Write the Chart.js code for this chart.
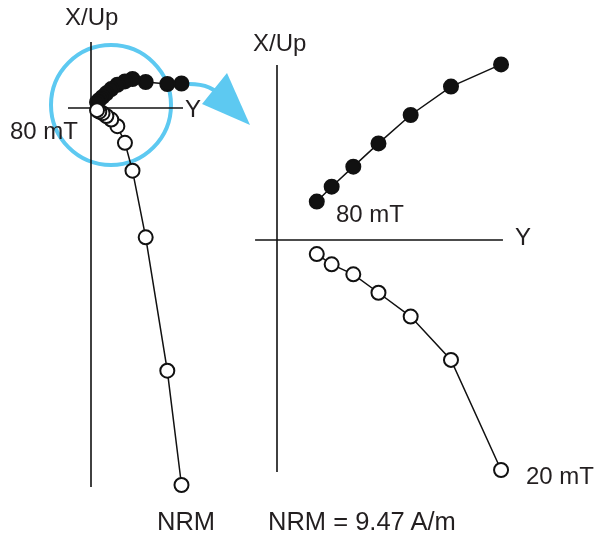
<!DOCTYPE html>
<html>
<head>
<meta charset="utf-8">
<script src="https://cdn.jsdelivr.net/npm/chart.js@4"></script>
<style>
  body { margin: 0; background: #fff; }
  #wrap { position: relative; width: 605px; height: 536px; }
  #zij { position: absolute; left: 0; top: 0; }
  .lbl { position: absolute; font-family: "Liberation Sans", Arial, sans-serif;
         font-size: 24px; line-height: 24px; color: #231f20; white-space: nowrap; }
  .big { font-size: 25.5px; line-height: 25px; }
</style>
</head>
<body>
<div id="wrap">
  <canvas id="zij" width="605" height="536"></canvas>
  <div class="lbl" style="left:65px; top:5px;">X/Up</div>
  <div class="lbl" style="left:185px; top:97px;">Y</div>
  <div class="lbl" style="left:10px; top:119px;">80 mT</div>
  <div class="lbl big" style="left:157px; top:509px;">NRM</div>
  <div class="lbl" style="left:253px; top:31px;">X/Up</div>
  <div class="lbl" style="left:336px; top:202px;">80 mT</div>
  <div class="lbl" style="left:515px; top:225px;">Y</div>
  <div class="lbl" style="left:526px; top:464px;">20 mT</div>
  <div class="lbl big" style="left:268px; top:509px;">NRM = 9.47 A/m</div>
</div>
<script>
// demagnetisation steps, components in A/m
var steps  = ['NRM', '5 mT', '10 mT', '15 mT', '20 mT', '30 mT', '40 mT', '50 mT', '60 mT', '70 mT', '80 mT'];
var compY  = [2.207, 1.861, 1.334, 1.012, 0.828, 0.643, 0.494, 0.375, 0.282, 0.202, 0.147];
var compX  = [0.598, 0.585, 0.634, 0.707, 0.649, 0.567, 0.462, 0.357, 0.271, 0.197, 0.142];
var compUp = [-9.195, -6.407, -3.154, -1.529, -0.850, -0.443, -0.283, -0.195, -0.127, -0.090, -0.052];
var zoomFrom = 4; // right panel starts at 20 mT

function pts(xs, ys, from) {
  var out = [];
  for (var i = from; i < xs.length; i++) out.push({ x: xs[i], y: ys[i], step: steps[i] });
  return out;
}

var leftPx = 41, rightPx = 270.6;   // pixels per A/m
var W = 605, H = 536;

function series(data, filled, xAxis, yAxis) {
  return {
    data: data,
    xAxisID: xAxis,
    yAxisID: yAxis,
    showLine: true,
    borderColor: '#111',
    borderWidth: 1.5,
    pointRadius: 7,
    pointHoverRadius: 7,
    pointBorderWidth: 2,
    pointBorderColor: '#111',
    pointBackgroundColor: filled ? '#111' : '#fff'
  };
}

var axesPlugin = {
  id: 'axes',
  beforeDatasetsDraw: function(chart) {
    var c = chart.ctx, s = chart.scales;
    c.save();
    // highlight circle + arrow
    c.strokeStyle = '#5dc9f1';
    c.fillStyle = '#5dc9f1';
    c.lineWidth = 4;
    c.beginPath();
    c.arc(111, 105, 60, 0, Math.PI * 2);
    c.stroke();
    c.beginPath();
    c.moveTo(186, 84);
    c.quadraticCurveTo(212, 83, 222, 98);
    c.stroke();
    c.beginPath();
    c.moveTo(227, 73);
    c.lineTo(250, 125);
    c.lineTo(202, 104);
    c.closePath();
    c.fill();
    // axes through the origin
    c.strokeStyle = '#111';
    c.lineWidth = 1.6;
    function line(xs, ys, x0, y0, x1, y1) {
      c.beginPath();
      c.moveTo(xs.getPixelForValue(x0), ys.getPixelForValue(y0));
      c.lineTo(xs.getPixelForValue(x1), ys.getPixelForValue(y1));
      c.stroke();
    }
    line(s.xL, s.yL, -0.561, 0, 2.244, 0);
    line(s.xL, s.yL, 0, 1.61, 0, -9.244);
    line(s.xR, s.yR, -0.081, 0, 0.835, 0);
    line(s.xR, s.yR, 0, 0.647, 0, -0.857);
    c.restore();
  }
};

new Chart(document.getElementById('zij'), {
  type: 'scatter',
  data: {
    datasets: [
      series(pts(compY, compUp, zoomFrom), false, 'xR', 'yR'),
      series(pts(compY, compX, zoomFrom), true, 'xR', 'yR'),
      series(pts(compY, compUp, 0), false, 'xL', 'yL'),
      series(pts(compY, compX, 0), true, 'xL', 'yL')
    ]
  },
  options: {
    responsive: false,
    animation: false,
    layout: { padding: 0, autoPadding: false },
    clip: false,
    plugins: { legend: { display: false }, tooltip: { enabled: false } },
    scales: {
      xL: { type: 'linear', axis: 'x', display: false, min: -91 / leftPx, max: (W - 91) / leftPx },
      yL: { type: 'linear', axis: 'y', display: false, min: (108 - H) / leftPx, max: 108 / leftPx },
      xR: { type: 'linear', axis: 'x', display: false, min: -277 / rightPx, max: (W - 277) / rightPx },
      yR: { type: 'linear', axis: 'y', display: false, min: (240 - H) / rightPx, max: 240 / rightPx }
    }
  },
  plugins: [axesPlugin]
});
</script>
</body>
</html>
